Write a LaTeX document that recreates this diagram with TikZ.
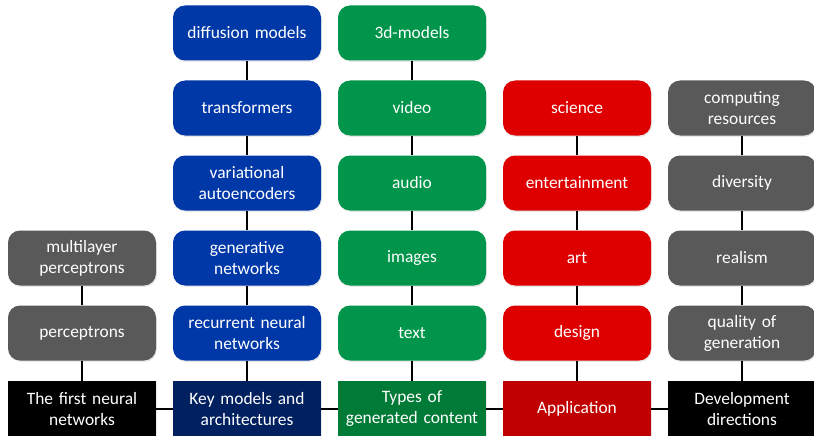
\documentclass[tikz,border=0pt]{standalone}
\usepackage{fontspec}
\setmainfont{Carlito}
\usepackage{tikz}
\usetikzlibrary{positioning,shadows}
\definecolor{aiblue}{HTML}{0038A8}
\definecolor{aigreen}{HTML}{00954A}
\definecolor{aired}{HTML}{DE0000}
\definecolor{aigray}{HTML}{595959}
\definecolor{basenavy}{HTML}{002060}
\definecolor{basegreen}{HTML}{007A37}
\definecolor{basered}{HTML}{C00000}
\tikzset{
  box/.style={rounded corners=12pt, align=center, text=white, text width=146pt,
              minimum width=148pt, minimum height=55pt, inner sep=0pt,
              font=\fontsize{17.4}{21}\selectfont,
              drop shadow={opacity=0.18, shadow xshift=0.8pt, shadow yshift=-1.4pt}},
  model/.style={box, fill=aiblue},
  content/.style={box, fill=aigreen},
  usage/.style={box, fill=aired},
  trend/.style={box, fill=aigray},
  base/.style={box, rounded corners=0pt, minimum height=56pt},
  link/.style={draw=black, line width=1.6pt},
}

\begin{document}
\begin{tikzpicture}[x=1pt, y=-1pt]
  \useasboundingbox (0,0) rectangle (814,436);

  % bottom row
  \node[base, fill=black] (b1) at (82,409) {The first neural\\networks};
  \node[base, fill=basenavy] (b2) at (247,409) {Key models and\\architectures};
  \node[base, fill=basegreen] (b3) at (412,409) {Types of\\generated content};
  \node[base, fill=basered] (b4) at (577,409) {Application};
  \node[base, fill=black] (b5) at (742,409) {Development\\directions};

  % first neural networks
  \node[trend] (p1) at (82,333) {perceptrons};
  \node[trend] (p2) at (82,258) {multilayer\\perceptrons};

  % key models
  \node[model] (m1) at (247,333) {recurrent neural\\networks};
  \node[model] (m2) at (247,258) {generative\\networks};
  \node[model] (m3) at (247,183) {variational\\autoencoders};
  \node[model] (m4) at (247,108) {transformers};
  \node[model] (m5) at (247,33) {diffusion models};

  % generated content
  \node[content] (c1) at (412,333) {text};
  \node[content] (c2) at (412,258) {images};
  \node[content] (c3) at (412,183) {audio};
  \node[content] (c4) at (412,108) {video};
  \node[content] (c5) at (412,33) {3d-models};

  % application
  \node[usage] (u1) at (577,333) {design};
  \node[usage] (u2) at (577,258) {art};
  \node[usage] (u3) at (577,183) {entertainment};
  \node[usage] (u4) at (577,108) {science};

  % development directions
  \node[trend] (d1) at (742,333) {quality of\\generation};
  \node[trend] (d2) at (742,258) {realism};
  \node[trend] (d3) at (742,183) {diversity};
  \node[trend] (d4) at (742,108) {computing\\resources};

  \draw[link] (b1) -- (b2);
  \draw[link] (b2) -- (b3);
  \draw[link] (b3) -- (b4);
  \draw[link] (b4) -- (b5);

  \draw[link] (b1) -- (p1);
  \draw[link] (p1) -- (p2);

  \draw[link] (b2) -- (m1);
  \draw[link] (m1) -- (m2);
  \draw[link] (m2) -- (m3);
  \draw[link] (m3) -- (m4);
  \draw[link] (m4) -- (m5);

  \draw[link] (b3) -- (c1);
  \draw[link] (c1) -- (c2);
  \draw[link] (c2) -- (c3);
  \draw[link] (c3) -- (c4);
  \draw[link] (c4) -- (c5);

  \draw[link] (b4) -- (u1);
  \draw[link] (u1) -- (u2);
  \draw[link] (u2) -- (u3);
  \draw[link] (u3) -- (u4);

  \draw[link] (b5) -- (d1);
  \draw[link] (d1) -- (d2);
  \draw[link] (d2) -- (d3);
  \draw[link] (d3) -- (d4);
\end{tikzpicture}
\end{document}
